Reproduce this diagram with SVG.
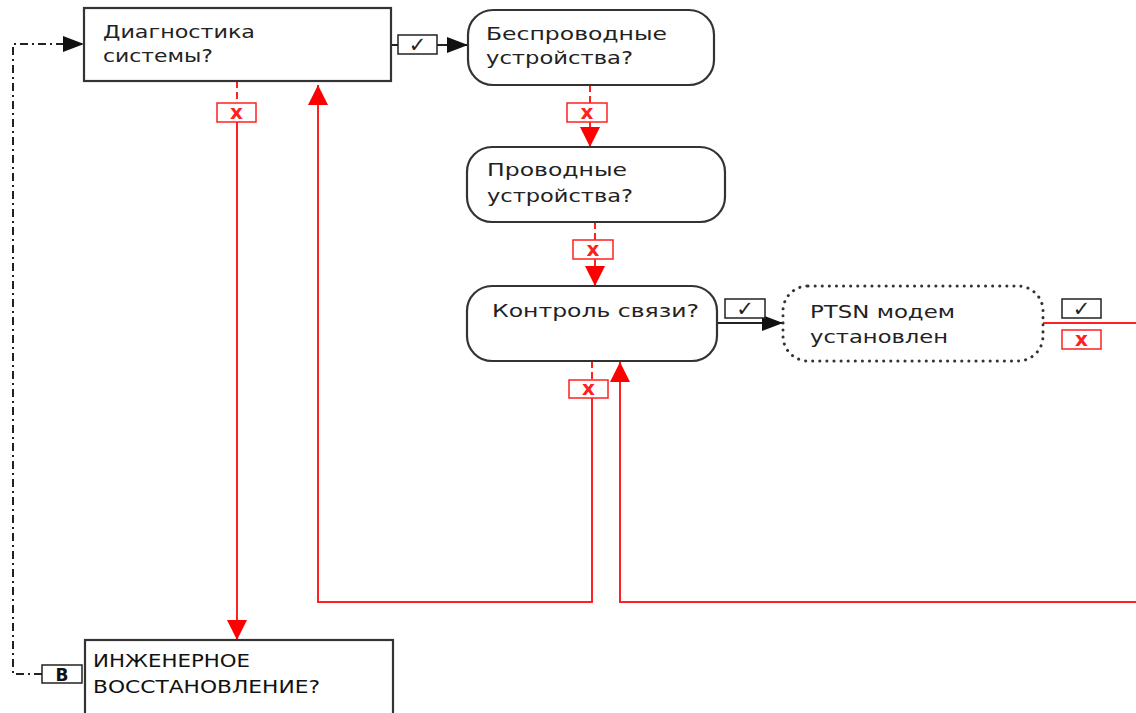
<svg xmlns="http://www.w3.org/2000/svg" width="1136" height="713" viewBox="0 0 1136 713">
<style>
.box{fill:#fff;stroke:#333;stroke-width:2.2}
.dot{fill:#fff;stroke:#333;stroke-width:3;stroke-dasharray:0.1,7;stroke-linecap:round}
.t{font-family:"DejaVu Sans",Verdana,sans-serif;font-size:18px;fill:#222}
.red{fill:none;stroke:#ff2020;stroke-width:2}
.redd{fill:none;stroke:#ff2020;stroke-width:2;stroke-dasharray:7,4}
.blk{fill:none;stroke:#222;stroke-width:2}
.dd{fill:none;stroke:#222;stroke-width:2;stroke-dasharray:8,4,2,4}
.lr{fill:#fff;stroke:#ff2020;stroke-width:1.5}
.lb{fill:#fff;stroke:#222;stroke-width:1.5}
.xr{font-family:"DejaVu Sans",sans-serif;font-size:20px;font-weight:bold;fill:#ff2020;text-anchor:middle}
.ck{font-family:"DejaVu Sans",sans-serif;font-size:21px;fill:#222;text-anchor:middle}
</style>
<defs>
<marker id="ar" viewBox="0 0 20 20" refX="20" refY="10" markerWidth="20" markerHeight="20" markerUnits="userSpaceOnUse" orient="auto"><path d="M0,0 L20,10 L0,20 z" fill="#ff0000"/></marker>
<marker id="ab" viewBox="0 0 21 16" refX="21" refY="8" markerWidth="21" markerHeight="16" markerUnits="userSpaceOnUse" orient="auto"><path d="M0,0 L21,8 L0,16 z" fill="#111"/></marker>
</defs>
<rect width="1136" height="713" fill="#fff"/>
<g id="connectors">
<path class="blk" d="M391,45 H398"/>
<path class="blk" d="M437,45 H468" marker-end="url(#ab)"/>
<rect class="lb" x="398" y="35" width="39" height="19"/>
<text class="ck" x="417.5" y="52">✓</text>
<path class="redd" d="M590,85 V103"/>
<path class="red" d="M590,122 V147" marker-end="url(#ar)"/>
<rect class="lr" x="567" y="103" width="40" height="19"/>
<text class="xr" x="587" y="119">x</text>
<path class="redd" d="M595,222 V240"/>
<path class="red" d="M595,259 V286" marker-end="url(#ar)"/>
<rect class="lr" x="573" y="240" width="40" height="19"/>
<text class="xr" x="593" y="256">x</text>
<path class="blk" d="M717,323 H783" marker-end="url(#ab)"/>
<rect class="lb" x="725" y="299" width="40" height="19"/>
<text class="ck" x="745" y="316">✓</text>
<path class="red" d="M1043,323 H1136"/>
<rect class="lb" x="1062" y="299" width="39" height="19"/>
<text class="ck" x="1081.5" y="316">✓</text>
<rect class="lr" x="1062" y="330" width="39" height="19"/>
<text class="xr" x="1081.5" y="346">x</text>
<path class="redd" d="M592,361 V380"/>
<path class="red" d="M592,398 V602 H318 V85" marker-end="url(#ar)"/>
<rect class="lr" x="569" y="380" width="39" height="18"/>
<text class="xr" x="588.5" y="395">x</text>
<path class="red" d="M1136,602 H620 V362" marker-end="url(#ar)"/>
<path class="redd" d="M237,81 V103"/>
<path class="red" d="M237,122 V640" marker-end="url(#ar)"/>
<rect class="lr" x="217" y="103" width="39" height="19"/>
<text class="xr" x="236.5" y="119">x</text>
<path class="dd" d="M42,674 H13 V44 H84" marker-end="url(#ab)"/>
<rect class="lb" x="42" y="665" width="40" height="18"/>
<text x="62" y="681" style="font-family:'DejaVu Sans',sans-serif;font-size:17px;font-weight:bold;fill:#111;text-anchor:middle">В</text>
</g>
<g id="n1">
<rect class="box" x="84" y="8" width="307" height="73"/>
<text class="t" x="103" y="38" textLength="152" lengthAdjust="spacingAndGlyphs">Диагностика</text>
<text class="t" x="103" y="62" textLength="110" lengthAdjust="spacingAndGlyphs">системы?</text>
</g>
<g id="n2">
<rect class="box" x="468" y="10" width="246" height="75" rx="25"/>
<text class="t" x="486" y="40" textLength="181" lengthAdjust="spacingAndGlyphs">Беспроводные</text>
<text class="t" x="486" y="64" textLength="147" lengthAdjust="spacingAndGlyphs">устройства?</text>
</g>
<g id="n3">
<rect class="box" x="467" y="147" width="258" height="75" rx="25"/>
<text class="t" x="487" y="176" textLength="140" lengthAdjust="spacingAndGlyphs">Проводные</text>
<text class="t" x="487" y="202" textLength="146" lengthAdjust="spacingAndGlyphs">устройства?</text>
</g>
<g id="n4">
<rect class="box" x="467" y="286" width="250" height="75" rx="25"/>
<text class="t" x="492" y="317" textLength="207" lengthAdjust="spacingAndGlyphs">Контроль связи?</text>
</g>
<g id="n5">
<rect class="dot" x="783" y="286" width="260" height="75" rx="25"/>
<text class="t" x="810" y="318" textLength="145" lengthAdjust="spacingAndGlyphs">PTSN модем</text>
<text class="t" x="810" y="343" textLength="138" lengthAdjust="spacingAndGlyphs">установлен</text>
</g>
<g id="n6">
<rect class="box" x="85" y="640" width="308" height="85"/>
<text class="t" x="93" y="667" textLength="157" lengthAdjust="spacingAndGlyphs" style="fill:#111">ИНЖЕНЕРНОЕ</text>
<text class="t" x="93" y="693" textLength="227" lengthAdjust="spacingAndGlyphs" style="fill:#111">ВОССТАНОВЛЕНИЕ?</text>
</g>
</svg>
